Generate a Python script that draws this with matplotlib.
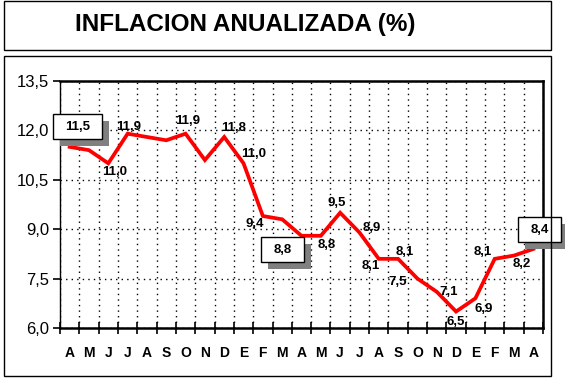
import numpy as np
import matplotlib.pyplot as plt
from matplotlib.patches import Rectangle
from matplotlib.transforms import IdentityTransform

plt.rcParams['font.family'] = ['Liberation Sans', 'DejaVu Sans']

# months (Apr .. Apr two years later) and annualised inflation (%)
months = ['A', 'M', 'J', 'J', 'A', 'S', 'O', 'N', 'D', 'E', 'F', 'M', 'A',
          'M', 'J', 'J', 'A', 'S', 'O', 'N', 'D', 'E', 'F', 'M', 'A']
inflation = [11.5, 11.4, 11.0, 11.9, 11.8, 11.7, 11.9, 11.1, 11.8, 11.0, 9.4, 9.3, 8.8,
             8.8, 9.5, 8.9, 8.1, 8.1, 7.5, 7.1, 6.5, 6.9, 8.1, 8.2, 8.4]
y_ticks = [6.0, 7.5, 9.0, 10.5, 12.0, 13.5]

# which points get a label, and where (pixel offsets); boxed ones get a shadow box
label_offsets = {2: (6, -9), 3: (1, 7), 6: (2, 13), 8: (9, 9), 9: (10, 9),
                 10: (-8, -8), 13: (6, -9), 14: (-3, 10), 15: (12, 4),
                 16: (-8, -7), 17: (7, 7), 18: (-20, -3), 19: (12, 0),
                 20: (0, -10), 21: (8, -11), 22: (-12, 7), 23: (8, -8)}
boxed_offsets = {0: (8, 20), 12: (-19, -14), 24: (6, 19)}

fig = plt.figure(figsize=(5.65, 3.79), dpi=100)
W, H = 565, 379

# outer frames (title box and chart box)
fig.patches.append(Rectangle((4 / W, 1 - 50 / H), 547 / W, 49 / H, transform=fig.transFigure,
                             fill=False, edgecolor='black', linewidth=1.0))
fig.patches.append(Rectangle((4 / W, 1 - 376 / H), 547 / W, 320 / H, transform=fig.transFigure,
                             fill=False, edgecolor='black', linewidth=1.0))
fig.text(245 / W, 1 - 24 / H, 'INFLACION ANUALIZADA (%)', ha='center', va='center',
         fontsize=17.5, fontweight='bold')

ax = fig.add_axes([60 / W, 1 - 328 / H, 483 / W, 247 / H])
x = np.arange(len(inflation))
ax.plot(x, inflation, color='#ff0000', linewidth=2.7, zorder=3, solid_joinstyle='miter')

ax.set_xlim(-0.5, len(inflation) - 0.5)
ax.set_ylim(y_ticks[0], y_ticks[-1])
ax.set_yticks(y_ticks)
ax.set_yticklabels([f'{v:.1f}'.replace('.', ',') for v in y_ticks], fontsize=12)
ax.set_xticks(np.arange(-0.5, len(inflation)), labels=[])
ax.set_xticks(x, labels=months, minor=True)
ax.tick_params(axis='x', which='minor', length=0, pad=13, labelsize=10)
for lbl in ax.get_xticklabels(minor=True):
    lbl.set_fontweight('bold')
ax.tick_params(axis='x', which='major', direction='inout', length=8, width=1.2)
ax.tick_params(axis='y', direction='out', length=5, width=1.2, pad=3)

ax.grid(True, which='major', color='black', linestyle=(0, (1, 3)), linewidth=1.0)
for side in ['top', 'right', 'bottom']:
    ax.spines[side].set_linewidth(1.8)
ax.spines['left'].set_linewidth(1.0)

def fmt(v):
    return f'{v:.1f}'.replace('.', ',')

for i, (dx, dy) in label_offsets.items():
    ax.annotate(fmt(inflation[i]), (x[i], inflation[i]), xytext=(dx, dy),
                textcoords='offset pixels', ha='center', va='center',
                fontsize=9.5, fontweight='bold', zorder=4)

boxed_texts = []
for i, (dx, dy) in boxed_offsets.items():
    t = ax.annotate(fmt(inflation[i]), (x[i], inflation[i]), xytext=(dx, dy),
                    textcoords='offset pixels', ha='center', va='center',
                    fontsize=9.5, fontweight='bold', zorder=7, annotation_clip=False)
    boxed_texts.append(t)

# white label boxes with grey drop shadow, sized in pixels around the text
fig.canvas.draw()
renderer = fig.canvas.get_renderer()
for t in boxed_texts:
    bb = t.get_window_extent(renderer)
    cx, cy = (bb.x0 + bb.x1) / 2, (bb.y0 + bb.y1) / 2
    bw, bh = bb.width + 24, 25
    shadow = Rectangle((cx - bw / 2 + 7, cy - bh / 2 - 7), bw, bh, transform=IdentityTransform(),
                       facecolor='#808080', edgecolor='none', zorder=5, clip_on=False)
    box = Rectangle((cx - bw / 2, cy - bh / 2), bw, bh, transform=IdentityTransform(),
                    facecolor='white', edgecolor='black', linewidth=1, zorder=6, clip_on=False)
    ax.add_artist(shadow)
    ax.add_artist(box)

fig.savefig('out.png', dpi=100)
